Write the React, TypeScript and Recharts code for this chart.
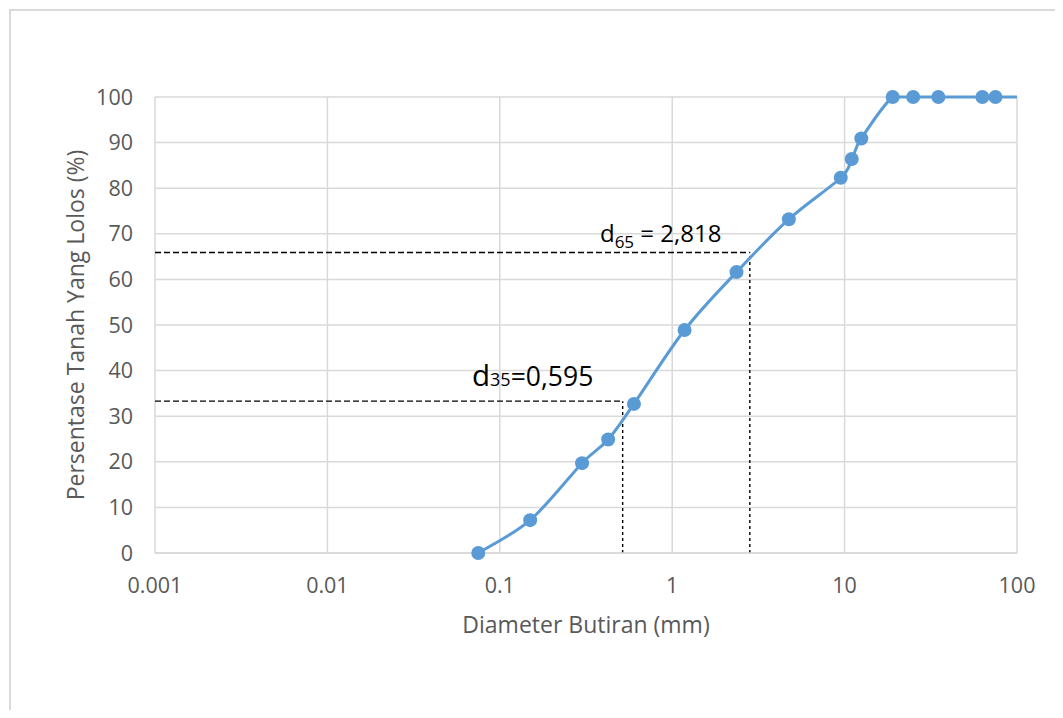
import React from 'react';
import {
  LineChart,
  Line,
  XAxis,
  YAxis,
  CartesianGrid,
  ReferenceLine,
  ReferenceDot,
  Label,
} from 'recharts';

// Grain size (mm) and percent passing
const sizes = [0.075, 0.15, 0.3, 0.425, 0.6, 1.18, 2.36, 4.75, 9.5, 11, 12.5, 19, 25, 35, 63, 75, 100];
const passing = [0, 7.2, 19.7, 24.9, 32.7, 48.9, 61.6, 73.2, 82.3, 86.4, 90.9, 100, 100, 100, 100, 100, 100];
// the last point (100 mm) only carries the line to the edge, it has no marker
const markerCount = 16;

const xTicks = [0.001, 0.01, 0.1, 1, 10, 100];
const yTicks = [0, 10, 20, 30, 40, 50, 60, 70, 80, 90, 100];

// d35 / d65 guide lines
const guideX = [0.516, 2.82];
const guideY = [33.3, 65.9];

const data = sizes.map((s, i) => ({ size: s, pass: passing[i] }));

const TEXT = '#595959';
const GRID = '#d9d9d9';
const BLUE = '#5b9bd5';

function fmtTick(v: number): string {
  if (v >= 1) return String(v);
  return v.toFixed(Math.round(-Math.log10(v)));
}

function clamp(v: number, a: number, b: number): number {
  return Math.max(Math.min(a, b), Math.min(Math.max(a, b), v));
}

// Excel-like smoothed line (Catmull-Rom through the points, no vertical overshoot)
// eslint-disable-next-line @typescript-eslint/no-explicit-any
function smoothCurve(context: any) {
  let pts: number[][] = [];
  return {
    areaStart() {},
    areaEnd() {},
    lineStart() {
      pts = [];
    },
    point(x: number, y: number) {
      pts.push([+x, +y]);
    },
    lineEnd() {
      const n = pts.length;
      if (!n) return;
      context.moveTo(pts[0][0], pts[0][1]);
      for (let i = 0; i < n - 1; i++) {
        const p0 = pts[i - 1] || pts[i];
        const p1 = pts[i];
        const p2 = pts[i + 1];
        const p3 = pts[i + 2] || p2;
        context.bezierCurveTo(
          p1[0] + (p2[0] - p0[0]) / 6,
          clamp(p1[1] + (p2[1] - p0[1]) / 6, p1[1], p2[1]),
          p2[0] - (p3[0] - p1[0]) / 6,
          clamp(p2[1] - (p3[1] - p1[1]) / 6, p1[1], p2[1]),
          p2[0],
          p2[1]
        );
      }
    },
  };
}

// eslint-disable-next-line @typescript-eslint/no-explicit-any
function SeriesDot(props: any) {
  const { cx, cy, index } = props;
  if (index >= markerCount) return <g key={`d${index}`} />;
  return <circle key={`d${index}`} cx={cx} cy={cy} r={7} fill={BLUE} stroke="none" />;
}

// eslint-disable-next-line @typescript-eslint/no-explicit-any
function D35Text(props: any) {
  const { cx, cy } = props;
  return (
    <text x={cx} y={cy} fill="#000" fontFamily="'Open Sans', sans-serif">
      <tspan fontSize={29.5}>d</tspan>
      <tspan fontSize={18}>35</tspan>
      <tspan fontSize={26.5}>=0,595</tspan>
    </text>
  );
}

// eslint-disable-next-line @typescript-eslint/no-explicit-any
function D65Text(props: any) {
  const { cx, cy } = props;
  return (
    <text x={cx} y={cy} fill="#000" fontFamily="'Open Sans', sans-serif" fontSize={24}>
      <tspan>d</tspan>
      <tspan fontSize={17} dy={6}>65</tspan>
      <tspan dy={-6}> = 2,818</tspan>
    </text>
  );
}

export default function App() {
  return (
    <div style={{ position: 'relative', width: 1063, height: 718, margin: -8, overflow: 'hidden', background: '#fff' }}>
      <div
        style={{
          position: 'absolute',
          left: 9,
          top: 9,
          width: 1200,
          height: 900,
          border: `2px solid ${GRID}`,
        }}
      />
      <div style={{ position: 'absolute', left: 0, top: 0 }}>
        <LineChart
          width={1063}
          height={718}
          data={data}
          margin={{ top: 97, right: 46, bottom: 105, left: 75 }}
          style={{ fontFamily: "'Open Sans', sans-serif" }}
        >
          <CartesianGrid stroke={GRID} strokeWidth={1.5} />
          <XAxis
            type="number"
            dataKey="size"
            scale="log"
            domain={[0.001, 100]}
            ticks={xTicks}
            tickFormatter={fmtTick}
            allowDataOverflow
            height={60}
            tick={{ fontSize: 21.5, fill: TEXT }}
            tickLine={false}
            tickMargin={19}
            axisLine={{ stroke: GRID, strokeWidth: 1.5 }}
          >
            <Label
              content={(p: any) => {
                const vb = p.viewBox;
                return (
                  <text x={vb.x + vb.width / 2} y={vb.y + 80} textAnchor="middle" fontSize={23} fill={TEXT}>
                    Diameter Butiran (mm)
                  </text>
                );
              }}
            />
          </XAxis>
          <YAxis
            type="number"
            domain={[0, 100]}
            ticks={yTicks}
            width={80}
            tick={{ fontSize: 21.5, fill: TEXT }}
            tickLine={false}
            tickMargin={16}
            axisLine={false}
          >
            <Label
              content={(p: any) => {
                const vb = p.viewBox;
                const cx = vb.x;
                const cy = vb.y + vb.height / 2;
                return (
                  <text
                    x={cx}
                    y={cy}
                    transform={`rotate(-90, ${cx}, ${cy})`}
                    textAnchor="middle"
                    dominantBaseline="central"
                    fontSize={23}
                    fill={TEXT}
                  >
                    Persentase Tanah Yang Lolos (%)
                  </text>
                );
              }}
            />
          </YAxis>

          {guideX.map((gx, i) => (
            <ReferenceLine
              key={`h${i}`}
              segment={[{ x: 0.001, y: guideY[i] }, { x: gx, y: guideY[i] }]}
              stroke="#000"
              strokeDasharray="6 3"
              strokeWidth={1.4}
            />
          ))}
          {guideX.map((gx, i) => (
            <ReferenceLine
              key={`v${i}`}
              segment={[{ x: gx, y: 0 }, { x: gx, y: guideY[i] }]}
              stroke="#000"
              strokeDasharray="3 3"
              strokeWidth={1.4}
            />
          ))}

          <Line
            type={smoothCurve as any}
            dataKey="pass"
            stroke={BLUE}
            strokeWidth={3}
            dot={<SeriesDot />}
            activeDot={false}
            isAnimationActive={false}
          />

          <ReferenceDot x={0.069} y={36.6} r={0} shape={<D35Text />} />
          <ReferenceDot x={0.381} y={68.2} r={0} shape={<D65Text />} />
        </LineChart>
      </div>
    </div>
  );
}
